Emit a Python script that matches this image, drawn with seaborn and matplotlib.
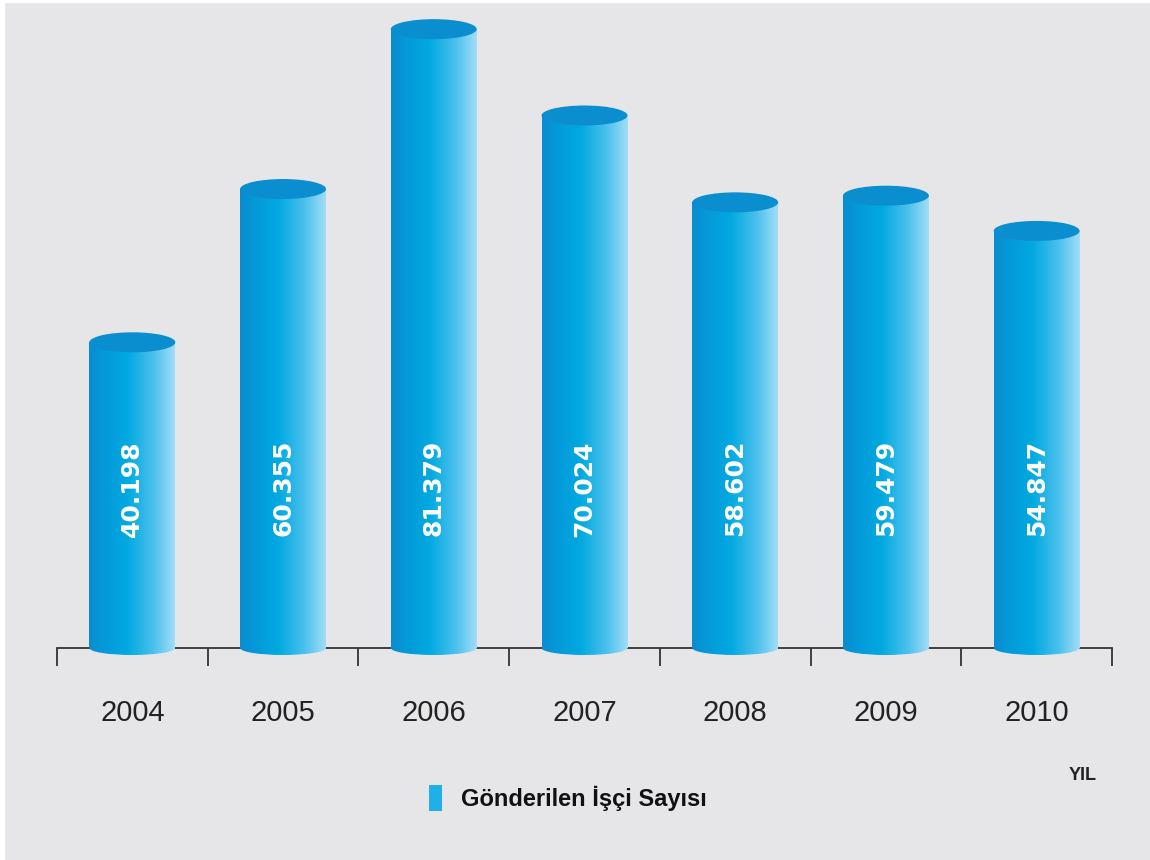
import numpy as np
import matplotlib
matplotlib.use("Agg")
import matplotlib.pyplot as plt
from matplotlib.colors import LinearSegmentedColormap
from matplotlib.patches import Ellipse, Patch, Rectangle
import seaborn as sns

years = ["2004", "2005", "2006", "2007", "2008", "2009", "2010"]
workers = [40198, 60355, 81379, 70024, 58602, 59479, 54847]
legend_label = "Gönderilen İşçi Sayısı"
axis_name = "YIL"

BG = "#e6e6e8"
sns.set_theme(style="white")
plt.rcParams["font.family"] = ["Liberation Sans Narrow", "Liberation Sans", "DejaVu Sans"]

W, H = 1150, 860
fig = plt.figure(figsize=(W / 100, H / 100), dpi=100, facecolor=BG)
# thin white frame (left/top) of the scanned chart
fig.patches.append(Rectangle((0, 0), 4 / W, 1, transform=fig.transFigure, color="white", zorder=0))
fig.patches.append(Rectangle((0, 1 - 2 / H), 1, 2 / H, transform=fig.transFigure, color="white", zorder=0))

k = 131.5  # data units per pixel
base_px = 648
ax_bottom_px = 720
ymin = -(ax_bottom_px - base_px) * k
ymax = base_px * k
ax = fig.add_axes([57 / W, (H - ax_bottom_px) / H, (1112 - 57) / W, ax_bottom_px / H])
ax.set_facecolor(BG)

sns.barplot(x=years, y=workers, color="#05a5de", width=0.57, ax=ax, zorder=3,
            linewidth=0, edgecolor="none")
ax.set_xlim(-0.5, len(years) - 0.5)
ax.set_ylim(ymin, ymax)

cmap = LinearSegmentedColormap.from_list(
    "cyl", [(0.0, "#0a8ccf"), (0.15, "#0598d8"), (0.45, "#01a9e1"),
            (0.75, "#4ac0ec"), (1.0, "#a2ddf7")])
grad = np.linspace(0, 1, 256).reshape(1, -1)
ell_h = 20 * k
bot_h = 14 * k

for bar, v in zip(ax.patches, workers):
    x0 = bar.get_x()
    w = bar.get_width()
    cx = x0 + w / 2
    h = bar.get_height()
    im = ax.imshow(grad, cmap=cmap, extent=[x0, x0 + w, 0, h], aspect="auto", zorder=4)
    im.set_clip_path(bar)
    be = Ellipse((cx, 0), w, bot_h, transform=ax.transData, facecolor="none", edgecolor="none")
    ax.add_patch(be)
    im2 = ax.imshow(grad, cmap=cmap, extent=[x0, x0 + w, -bot_h, 0], aspect="auto", zorder=4)
    im2.set_clip_path(be)
    ax.add_patch(Ellipse((cx, h), w, ell_h, facecolor="#0b8ecf", edgecolor="none", zorder=5))
    ax.text(cx, 21000, f"{v:,}".replace(",", "."), rotation=90, ha="center", va="center",
            color="white", fontsize=18, fontweight="bold", family="DejaVu Sans", zorder=6)

ax.set_xlim(-0.5, len(years) - 0.5)
ax.set_ylim(ymin, ymax)
ax.set_xlabel("")
ax.set_ylabel("")
ax.set_yticks([])
for s in ["left", "right", "top"]:
    ax.spines[s].set_visible(False)
ax.spines["bottom"].set_position(("data", 0))
ax.spines["bottom"].set_color("#333333")
ax.spines["bottom"].set_linewidth(1.3)
ax.spines["bottom"].set_zorder(2)
ax.set_xticks(np.arange(len(years)))
ax.set_xticklabels(years)
ax.set_xticks(np.arange(-0.5, len(years), 1.0), minor=True)
ax.tick_params(axis="x", which="major", length=0, pad=37, labelsize=21, labelcolor="#222222")
ax.tick_params(axis="x", which="minor", length=13, width=1.3, color="#333333", direction="out", bottom=True)

fig.text(1083 / W, 1 - 775 / H, axis_name, ha="center", va="center", fontsize=13,
         fontweight="bold", color="#222222")

handle = Patch(facecolor="#1fb0e8", edgecolor="none")
fig.legend(handles=[handle], labels=[legend_label], loc="center",
           bbox_to_anchor=(568 / W, 1 - 798 / H), frameon=False,
           prop={"size": 17, "weight": "bold"}, handlelength=0.55, handleheight=1.3,
           handletextpad=0.8, labelcolor="#111111")

fig.savefig("out.png", dpi=100, facecolor=BG)
